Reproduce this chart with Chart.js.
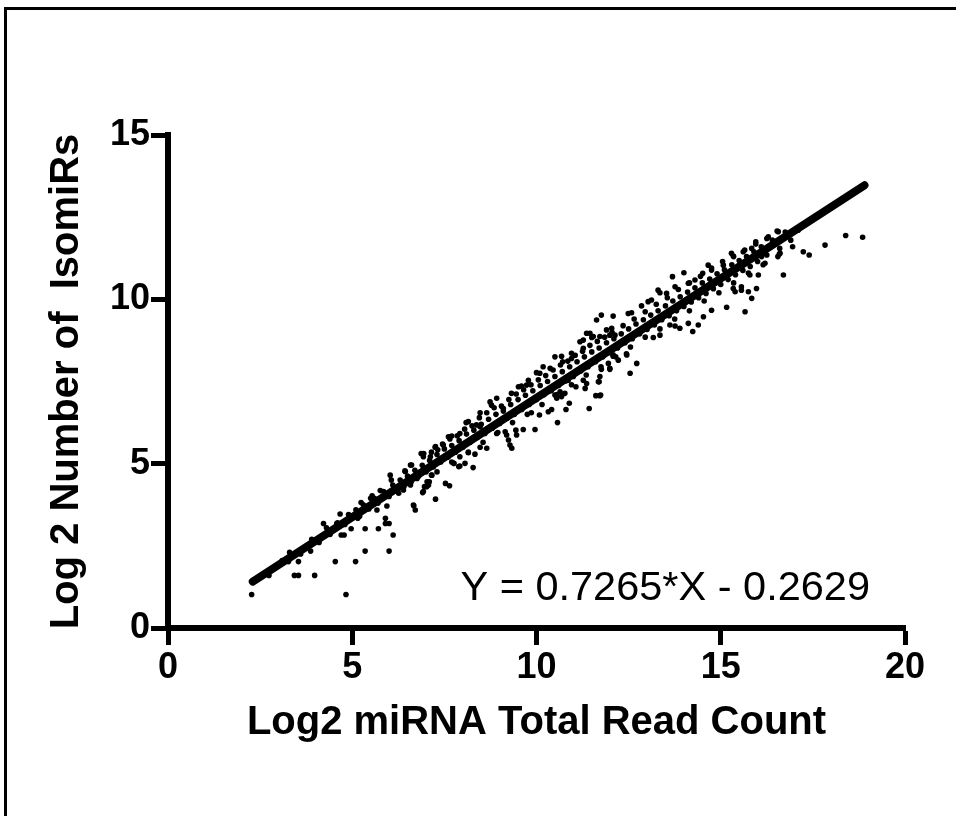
<!DOCTYPE html>
<html>
<head>
<meta charset="utf-8">
<title>IsomiRs vs read count</title>
<script src="https://cdn.jsdelivr.net/npm/chart.js@4.4.1/dist/chart.umd.min.js"></script>
<style>
  html, body { margin: 0; padding: 0; background: #fff; overflow: hidden; }
  #frame {
    position: absolute; left: 4px; top: 7px; width: 1000px; height: 900px;
    border-left: 3px solid #000; border-top: 3px solid #000;
  }
  #chart { position: absolute; left: 0; top: 0; }
</style>
</head>
<body>
<div id="frame"></div>
<canvas id="chart" width="956" height="816"></canvas>
<script>
const X_TITLE = "Log2 miRNA Total Read Count";
const Y_TITLE = "Log 2 Number of  IsomiRs";
const EQUATION = "Y = 0.7265*X - 0.2629";

const X_TICKS = [0, 5, 10, 15, 20];
const Y_TICKS = [0, 5, 10, 15];

// fitted line, end points
const FIT_X = [2.3, 18.9];
const FIT_Y = [1.41, 13.47];

// [log2 read count, log2 isomiRs] -- outliers, lower left
const pointsLow = [
  [2.27, 1.02], [4.83, 1.02], [2.74, 1.60], [3.43, 1.60], [3.54, 1.60], [3.98, 1.60],
  [3.27, 2.02], [3.54, 2.02], [4.54, 2.02], [5.09, 2.02], [5.35, 2.34], [6.0, 2.34],
  [3.87, 2.34], [6.11, 2.83], [4.70, 2.83], [4.78, 2.83], [4.97, 3.02], [5.35, 3.02],
  [5.71, 3.02], [5.90, 3.18], [6.0, 3.18], [5.9, 3.34], [4.22, 3.18], [4.67, 3.47],
  [5.15, 3.34], [5.67, 3.59], [5.24, 3.82], [6.67, 3.72], [6.71, 3.59], [7.26, 3.92],
  [6.91, 4.12], [6.96, 4.30], [7.07, 4.35], [7.53, 4.40], [7.64, 4.33], [7.75, 5.01],
  [5.76, 4.18], [5.94, 3.71], [5.54, 4.02], [6.03, 4.65], [6.06, 4.50], [6.26, 4.10],
  [6.44, 4.76], [6.58, 4.96], [6.39, 4.20], [6.58, 4.35], [6.87, 5.31], [6.94, 5.31],
  [7.12, 5.21], [7.16, 4.65], [7.26, 5.52], [7.32, 5.42], [6.76, 4.55], [7.03, 4.45],
  [7.89, 4.91], [5.5, 3.95], [4.99, 3.34], [4.58, 3.18]
];

// middle section, below and above the line
const pointsMid = [
  [6.66, 3.74], [6.93, 4.15], [7.02, 4.30], [7.09, 4.45], [7.15, 4.65], [7.76, 5.01],
  [7.92, 4.93], [8.06, 5.01], [8.28, 4.88], [7.92, 5.21], [8.15, 5.33], [8.47, 5.50],
  [8.65, 5.47], [8.33, 5.29], [9.28, 5.57], [9.33, 5.47], [9.24, 5.72], [9.64, 6.04],
  [9.96, 6.04], [9.46, 5.87], [9.44, 6.02], [9.15, 5.97], [9.19, 5.87], [8.92, 5.92],
  [8.65, 6.02], [10.57, 6.25], [10.32, 6.58], [10.41, 6.65], [10.08, 6.48], [9.86, 6.55],
  [10.8, 6.65], [10.89, 6.84], [10.77, 7.14], [10.68, 7.04], [10.50, 7.09], [10.55, 6.99],
  [10.64, 7.19], [11.07, 7.34], [11.32, 7.29], [11.36, 7.44], [11.43, 6.68], [11.61, 7.07],
  [11.72, 7.07], [11.68, 7.49], [11.72, 7.65], [11.76, 7.87], [11.99, 7.87], [11.95, 8.05],
  [12.08, 8.27], [12.44, 8.34], [12.72, 8.05], [12.54, 7.75], [11.00, 7.70], [11.27, 7.54],
  [10.86, 7.54],
  [6.43, 4.78], [6.61, 4.96], [6.93, 5.21], [7.25, 5.50], [7.47, 5.57], [7.61, 5.82],
  [7.70, 5.84], [7.92, 5.92], [8.09, 6.25], [8.15, 6.28], [8.37, 6.18], [8.47, 6.12],
  [8.47, 6.55], [8.74, 6.88], [8.78, 6.78], [8.92, 6.99], [9.10, 6.68], [9.32, 7.14],
  [9.51, 7.34], [9.59, 7.36], [9.73, 7.39], [9.78, 7.54], [10.0, 7.77], [10.09, 7.75],
  [10.18, 7.95], [10.37, 7.90], [10.50, 8.25], [10.68, 8.27], [10.71, 8.10], [10.95, 8.20],
  [11.18, 8.71], [11.45, 8.97], [11.5, 8.84], [11.27, 8.51], [11.72, 8.87], [11.99, 8.91],
  [12.13, 8.91], [12.27, 8.66]
];

// upper right section
const pointsHigh = [
  [11.76, 9.52], [11.63, 9.37], [12.08, 9.49], [11.9, 9.07], [12.04, 9.12], [11.36, 8.97],
  [11.54, 8.87], [11.27, 8.76], [10.95, 8.36], [12.49, 9.57], [12.58, 9.59], [12.85, 9.80],
  [13.03, 9.93], [13.12, 9.98], [13.30, 10.28], [13.35, 10.20], [13.53, 10.18], [13.69, 10.69],
  [13.76, 10.38], [14.0, 10.81], [14.12, 10.49], [14.3, 10.59], [14.51, 10.79], [14.66, 11.04],
  [14.75, 10.89], [15.07, 11.04], [15.29, 11.4], [15.34, 11.32], [15.61, 11.45], [15.84, 11.55],
  [15.95, 11.75], [16.29, 11.9], [16.56, 12.06],
  [12.45, 8.31], [12.08, 8.31], [13.17, 8.84], [13.35, 8.91], [13.62, 9.22], [13.76, 9.19],
  [13.89, 9.12], [14.12, 9.27], [14.24, 9.02], [14.39, 9.22], [14.53, 9.47], [14.75, 9.67],
  [15.16, 9.76], [15.66, 9.62], [15.34, 10.33], [15.39, 10.23], [15.56, 10.38], [15.56, 10.28],
  [15.75, 10.23], [15.84, 10.03], [15.97, 10.33], [16.02, 10.74], [15.79, 10.74], [16.11, 11.3],
  [16.2, 11.1], [16.61, 11.4], [16.7, 10.74], [17.24, 11.45], [17.4, 11.35], [11.7, 7.49],
  [11.74, 7.09], [11.99, 7.9], [12.22, 8.15], [18.39, 11.94], [18.85, 11.89], [17.83, 11.65],
  [16.59, 11.38], [16.53, 12.08], [16.2, 11.4]
];

// the dense band that sits on the fitted line
const pointsBand = [
  [3.1, 2.05], [3.3, 2.30], [3.6, 2.25], [3.9, 2.70], [4.1, 2.60], [4.3, 3.05], [4.4, 2.85],
  [4.6, 3.20], [4.8, 3.15], [4.9, 3.45], [5.1, 3.60], [5.2, 3.40], [5.3, 3.75], [5.45, 3.62],
  [5.6, 3.95], [5.7, 3.80], [5.85, 4.15], [6.0, 4.00], [6.1, 4.35], [6.2, 4.20], [6.3, 4.50],
  [6.4, 4.30], [6.5, 4.62], [6.6, 4.45], [6.7, 4.80], [6.8, 4.62], [6.9, 4.95], [7.0, 4.75],
  [7.1, 5.10], [7.2, 4.90], [7.3, 5.28], [7.4, 5.05], [7.5, 5.45], [7.6, 5.20], [7.7, 5.55],
  [7.8, 5.35], [7.9, 5.70], [8.0, 5.50], [8.1, 5.90], [8.2, 5.65], [8.3, 6.02], [8.4, 5.80],
  [8.5, 6.20], [8.6, 5.92], [8.7, 6.35], [8.8, 6.08], [8.9, 6.50], [9.0, 6.22], [9.1, 6.60],
  [9.2, 6.38], [9.3, 6.80], [9.4, 6.50], [9.5, 6.95], [9.6, 6.65], [9.7, 7.08], [9.8, 6.80],
  [9.9, 7.22], [10.0, 6.95], [10.1, 7.38], [10.2, 7.10], [10.3, 7.50], [10.4, 7.22], [10.5, 7.65],
  [10.6, 7.38], [10.7, 7.80], [10.8, 7.52], [10.9, 7.95], [11.0, 7.65], [11.1, 8.10], [11.2, 7.82],
  [11.3, 8.25], [11.4, 7.95], [11.5, 8.40], [11.6, 8.10], [11.7, 8.52], [11.8, 8.25], [11.9, 8.68],
  [12.0, 8.38], [12.1, 8.80], [12.2, 8.52], [12.3, 8.95], [12.4, 8.68], [12.5, 9.10], [12.6, 8.80],
  [12.7, 9.25], [12.8, 8.95], [12.9, 9.38], [13.0, 9.08], [13.1, 9.52], [13.2, 9.22], [13.3, 9.65],
  [13.4, 9.38], [13.5, 9.80], [13.6, 9.50], [13.7, 9.95], [13.8, 9.65], [13.9, 10.08], [14.0, 9.78],
  [14.1, 10.22], [14.2, 9.92], [14.3, 10.35], [14.4, 10.05], [14.5, 10.50], [14.6, 10.18],
  [14.7, 10.62], [14.8, 10.32], [14.9, 10.78], [15.0, 10.45], [15.1, 10.90], [15.2, 10.60],
  [15.3, 11.05], [15.4, 10.75], [15.5, 11.18], [15.6, 10.88], [15.7, 11.30], [15.8, 11.00],
  [15.9, 11.45], [16.0, 11.15], [16.1, 11.60], [16.25, 11.35], [16.4, 11.80], [16.6, 11.55],
  [16.75, 12.05], [16.9, 11.80], [17.1, 12.10],
  [7.15, 5.35], [7.45, 5.60], [7.65, 5.75], [7.85, 5.85], [8.05, 6.05], [8.25, 6.15], [8.45, 6.40],
  [8.65, 6.55], [8.85, 6.70], [9.05, 6.75], [9.25, 6.95], [9.45, 7.12], [9.65, 7.25], [9.85, 7.40],
  [10.05, 7.55], [10.25, 7.68], [10.45, 7.85], [10.65, 8.00], [10.85, 8.12], [11.05, 8.30],
  [11.25, 8.42], [11.45, 8.60], [11.65, 8.72], [11.85, 8.85], [12.05, 9.00], [12.35, 9.20],
  [12.65, 9.40], [12.95, 9.62], [13.25, 9.85], [13.55, 10.05], [13.85, 10.30], [14.15, 10.50],
  [14.45, 10.70], [14.75, 10.95], [15.05, 11.15], [15.35, 11.30], [15.65, 11.50], [15.95, 11.68],
  [16.25, 11.85],
  [7.3, 4.75], [7.7, 5.05], [8.15, 5.35], [8.55, 5.65], [8.95, 5.95], [9.35, 6.25], [9.75, 6.50],
  [10.15, 6.80], [10.55, 7.10], [10.95, 7.40], [11.35, 7.70], [11.75, 7.95], [12.15, 8.25],
  [12.55, 8.55], [12.95, 8.85], [13.35, 9.10], [13.75, 9.40], [14.15, 9.65], [14.55, 9.95],
  [14.95, 10.20], [15.35, 10.50], [15.75, 10.80], [16.15, 11.05], [16.55, 11.30], [16.95, 11.60]
];

const FONT = '"Liberation Sans", Arial, Helvetica, sans-serif';

function toXY(list) {
  return list.map((p) => ({ x: p[0], y: p[1] }));
}

const allPoints = toXY(pointsLow.concat(pointsMid, pointsHigh, pointsBand));
const fitLine = FIT_X.map((x, i) => ({ x: x, y: FIT_Y[i] }));

// equation is plain text in the lower right of the plot
const equationLabel = {
  id: "equationLabel",
  afterDraw(chart) {
    const ctx = chart.ctx;
    ctx.save();
    ctx.font = "41.5px " + FONT;
    ctx.fillStyle = "#000";
    ctx.textAlign = "right";
    ctx.textBaseline = "alphabetic";
    ctx.fillText(EQUATION, 870, 600);
    ctx.restore();
  },
};

function axisOptions(ticks, max, title, titlePad, fit) {
  return {
    type: "linear",
    min: 0,
    max: max,
    border: { display: true, color: "#000", width: 6 },
    grid: {
      display: true,
      drawOnChartArea: false,
      drawTicks: true,
      tickLength: 17,
      tickWidth: 5,
      tickColor: "#000",
    },
    ticks: {
      color: "#000",
      autoSkip: false,
      maxRotation: 0,
      padding: 1,
      font: { family: FONT, size: 36, weight: "bold" },
    },
    afterBuildTicks(scale) {
      scale.ticks = ticks.map((v) => ({ value: v }));
    },
    afterFit: fit,
    title: {
      display: true,
      text: title,
      color: "#000",
      font: { family: FONT, size: 40, weight: "bold" },
      padding: titlePad,
    },
  };
}

new Chart(document.getElementById("chart"), {
  data: {
    datasets: [
      {
        type: "line",
        data: fitLine,
        borderColor: "#000",
        borderWidth: 8,
        borderCapStyle: "round",
        pointRadius: 0,
        fill: false,
        order: 0,
      },
      {
        type: "scatter",
        data: allPoints,
        backgroundColor: "#000",
        borderWidth: 0,
        pointRadius: 2.8,
        order: 1,
      },
    ],
  },
  options: {
    responsive: false,
    devicePixelRatio: 1,
    animation: false,
    layout: { padding: { top: 135, right: 51, left: 0, bottom: 0 } },
    plugins: { legend: { display: false }, tooltip: { enabled: false } },
    scales: {
      x: axisOptions(X_TICKS, 20, X_TITLE, { top: 0, bottom: 69 }, (s) => { s.height = 188; }),
      y: axisOptions(Y_TICKS, 15, Y_TITLE, { top: 43, bottom: 0 }, (s) => { s.width = 168; }),
    },
  },
  plugins: [equationLabel],
});
</script>
</body>
</html>
